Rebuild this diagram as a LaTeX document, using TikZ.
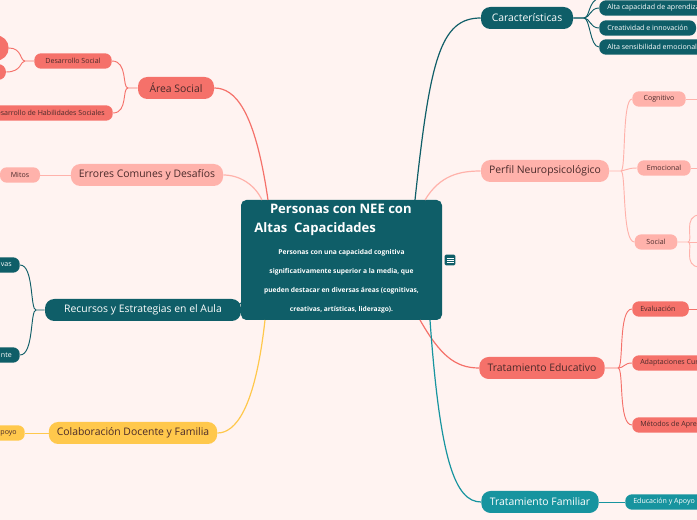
\documentclass[tikz,border=0pt]{standalone}
\usepackage{fontspec}
\setmainfont{Open Sans}
\definecolor{bg}{HTML}{FFF3F1}
\definecolor{dteal}{HTML}{0F5E68}
\definecolor{lteal}{HTML}{17949F}
\definecolor{coral}{HTML}{F5716A}
\definecolor{salmon}{HTML}{FFB2AB}
\definecolor{gold}{HTML}{FFC84C}
\definecolor{txtd}{HTML}{4A2A2A}
\begin{document}
\begin{tikzpicture}[x=0.75pt,y=-0.75pt,
  br/.style={rounded corners=7pt,minimum height=16.5pt,inner xsep=6pt,font=\fontsize{7.8}{8}\selectfont,anchor=center},
  sb/.style={rounded corners=5pt,minimum height=11.5pt,inner xsep=6pt,inner ysep=1pt,font=\fontsize{5.3}{6}\selectfont},
  ln/.style={line width=0.9pt}]
\fill[bg] (0,0) rectangle (697,520);
\useasboundingbox (0,0) rectangle (697,520);
\clip (0,0) rectangle (697,520);
% central
\node[fill=dteal,rounded corners=4pt,minimum width=150.75pt,minimum height=90pt] (c) at (341.5,260) {};
\node[text=white,font=\bfseries\fontsize{9.8}{14}\selectfont,align=left] (ct) at (333,220) {\hspace*{1.2em}Personas con NEE con\\Altas\ \ Capacidades};
\node[text=white,font=\bfseries\fontsize{5}{14.3}\selectfont,align=center] (cb) at (341.5,281) {Personas con una capacidad cognitiva\\significativamente superior a la media, que\\pueden destacar en diversas áreas (cognitivas,\\creativas, artísticas, liderazgo).};
\node[fill=dteal,rounded corners=1pt,minimum size=8pt,inner sep=0pt] (ic) at (450,260) {};
\foreach \d in {-2,0,2} \draw[white,line width=0.6pt] (446.5,260+\d) -- (453.5,260+\d);
% right side
\node[br,fill=dteal,text=white,minimum width=69pt] (car) at (527,18) {Características};
\node[br,fill=salmon,text=txtd,minimum width=96pt] (per) at (545,171) {Perfil Neuropsicológico};
\node[br,fill=coral,text=txtd,minimum width=94pt] (edu) at (542,368) {Tratamiento Educativo};
\node[br,fill=lteal,text=white,minimum width=88pt] (fam) at (540,502) {Tratamiento Familiar};
\draw[ln,dteal] (415,200) .. controls (430,60) and (440,18) .. (car.west);
\draw[ln,salmon] (425,200) .. controls (440,175) and (460,171) .. (per.west);
\draw[ln,coral] (420,320) .. controls (440,355) and (455,368) .. (edu.west);
\draw[ln,lteal] (430,320) .. controls (440,460) and (455,502) .. (fam.west);
% characteristics children
\foreach \n/\y/\t in {a1/8/Alta capacidad de aprendizaje, a2/28/Creatividad e innovación, a3/47/Alta sensibilidad emocional}{
  \node[sb,fill=dteal,text=white,anchor=west] (\n) at (599,\y) {\t};
  \draw[ln,dteal,line width=0.7pt] (car.east) -- (584,18) .. controls (590,18) and (590,\y) .. (\n.west);}
\coordinate (atop) at (600,-2);
\draw[ln,dteal,line width=0.7pt] (584,18) .. controls (590,18) and (588,0) .. (atop);
% perfil children
\node[sb,fill=salmon,text=txtd,minimum width=40pt] (cog) at (659,99) {Cognitivo};
\node[sb,fill=salmon,text=txtd,minimum width=40pt] (emo) at (664,168) {Emocional};
\node[sb,fill=salmon,text=txtd,minimum width=32pt] (soc) at (656,242) {Social};
\draw[ln,salmon,line width=0.7pt] (per.east) -- (621,171) .. controls (626,171) and (622,99) .. (cog.west);
\draw[ln,salmon,line width=0.7pt] (621,171) .. controls (626,171) and (626,168) .. (emo.west);
\draw[ln,salmon,line width=0.7pt] (621,171) .. controls (626,171) and (622,242) .. (soc.west);
\coordinate (cogr) at (697,99); \coordinate (emor) at (697,168);
\coordinate (s1) at (700,215); \coordinate (s2) at (697,242); \coordinate (s3) at (700,267);
\draw[ln,salmon,line width=0.7pt] (cog.east) -- (cogr);
\draw[ln,salmon,line width=0.7pt] (emo.east) -- (emor);
\draw[ln,salmon,line width=0.7pt] (soc.east) -- (688,242) .. controls (694,242) and (682,215) .. (s1);
\draw[ln,salmon,line width=0.7pt] (688,242) -- (s2);
\draw[ln,salmon,line width=0.7pt] (688,242) .. controls (694,242) and (682,267) .. (s3);
% educativo children
\node[sb,fill=coral,text=txtd,anchor=west] (ev) at (632,309) {Evaluación\hspace*{4pt}};
\node[sb,fill=coral,text=txtd,anchor=west] (ad) at (632,363) {Adaptaciones Curriculares};
\node[sb,fill=coral,text=txtd,anchor=west] (me) at (632,425) {Métodos de Aprendizaje};
\draw[ln,coral,line width=0.7pt] (edu.east) -- (618,368) .. controls (624,368) and (618,309) .. (ev.west);
\draw[ln,coral,line width=0.7pt] (618,368) .. controls (624,368) and (624,363) .. (ad.west);
\draw[ln,coral,line width=0.7pt] (618,368) .. controls (624,368) and (618,425) .. (me.west);
\coordinate (evr) at (697,309);
\draw[ln,coral,line width=0.7pt] (ev.east) -- (evr);
% familiar child
\node[sb,fill=lteal,text=white,anchor=west] (eda) at (625,502) {Educación y Apoyo Familiar};
\draw[ln,lteal,line width=0.7pt] (fam.east) -- (eda.west);
% left side
\node[br,fill=coral,text=txtd,minimum width=57pt] (area) at (176,88) {Área Social};
\node[br,fill=salmon,text=txtd,minimum width=111pt] (err) at (147,175) {Errores Comunes y Desafíos};
\node[br,fill=dteal,text=white,minimum width=147pt] (rec) at (143,310) {Recursos y Estrategias en el Aula};
\node[br,fill=gold,text=txtd,minimum width=121pt] (col) at (133,433) {Colaboración Docente y Familia};
\draw[ln,coral] (268,200) .. controls (255,110) and (235,88) .. (area.east);
\draw[ln,salmon] (262,200) .. controls (255,185) and (240,175) .. (err.east);
\draw[ln,dteal] (241,303) .. controls (235,308) and (230,310) .. (rec.east);
\draw[ln,gold] (265,320) .. controls (255,410) and (235,433) .. (col.east);
% area children
\node[sb,fill=coral,text=txtd,minimum width=58pt] (ds) at (73,61) {Desarrollo Social};
\node[sb,fill=coral,text=txtd,anchor=east] (dh) at (113,113) {Desarrollo de Habilidades Sociales};
\draw[ln,coral,line width=0.7pt] (area.west) -- (128,88) .. controls (122,88) and (128,61) .. (ds.east);
\draw[ln,coral,line width=0.7pt] (128,88) .. controls (122,88) and (128,113) .. (dh.east);
\node[fill=coral,circle,minimum size=19pt,inner sep=0pt] (d1) at (-4,48) {};
\node[fill=coral,circle,minimum size=12pt,inner sep=0pt] (d2) at (-2,72) {};
\draw[ln,coral,line width=0.7pt] (ds.west) -- (25,61) .. controls (20,61) and (22,48) .. (d1.east);
\draw[ln,coral,line width=0.7pt] (25,61) .. controls (20,61) and (22,72) .. (d2.east);
% errores child
\node[sb,fill=salmon,text=txtd,minimum width=30pt] (mit) at (20,175) {Mitos};
\draw[ln,salmon,line width=0.7pt] (mit.east) -- (err.west);
% recursos children
\node[sb,fill=dteal,text=white,anchor=east] (r1) at (20,265) {\hspace*{30pt}vas};
\node[sb,fill=dteal,text=white,anchor=east] (r2) at (20,355) {\hspace*{30pt}nte};
\draw[ln,dteal,line width=0.7pt] (rec.west) -- (36,310) .. controls (30,310) and (34,265) .. (r1.east);
\draw[ln,dteal,line width=0.7pt] (36,310) .. controls (30,310) and (34,355) .. (r2.east);
% colaboracion child
\node[sb,fill=gold,text=txtd,anchor=east] (cp) at (25,433) {\hspace*{30pt}poyo};
\draw[ln,gold,line width=0.7pt] (cp.east) -- (col.west);
\end{tikzpicture}
\end{document}
